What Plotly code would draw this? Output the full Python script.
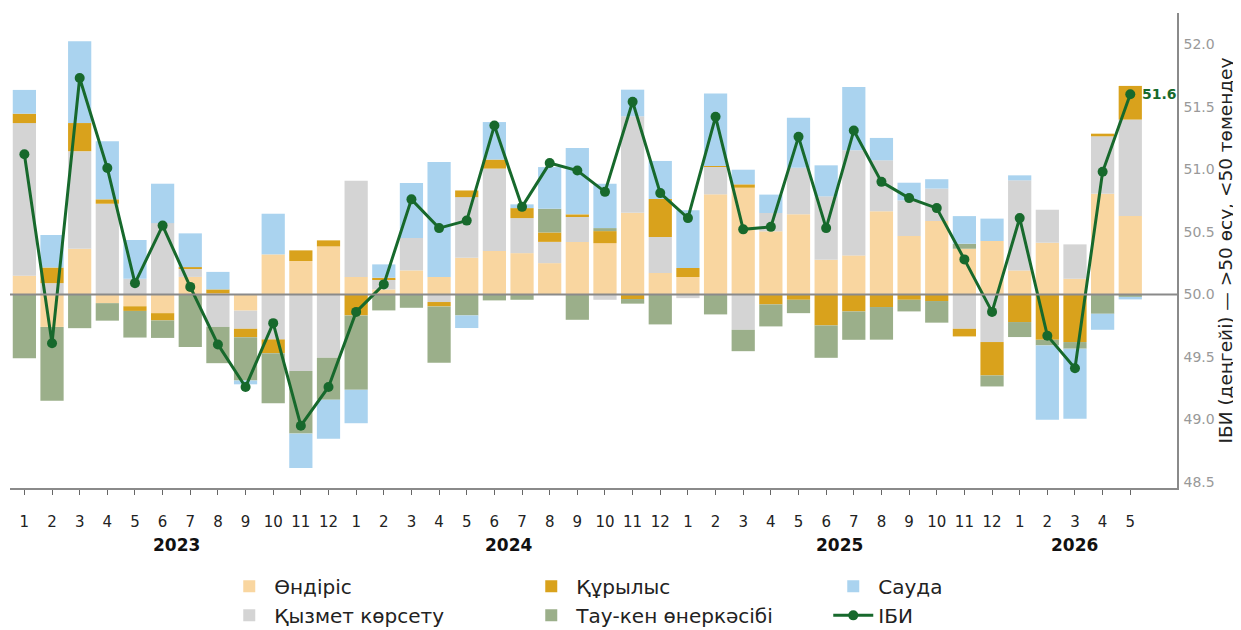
import plotly.graph_objects as go

# ---- data ----
months = [1,2,3,4,5,6,7,8,9,10,11,12,
          1,2,3,4,5,6,7,8,9,10,11,12,
          1,2,3,4,5,6,7,8,9,10,11,12,
          1,2,3,4,5]
years = [2023]*12 + [2024]*12 + [2025]*12 + [2026]*5

# contributions to deviation from 50 (index points)
ondiris = [0.15,-0.26,0.365,-0.07,-0.095,-0.15,0.14,0.01,-0.13,0.32,0.267,0.384,
           0.14,0.04,0.192,0.139,0.293,0.347,0.33,0.25,0.419,0.41,0.653,0.171,
           0.139,0.80,0.853,0.504,0.64,0.277,0.312,0.664,0.467,0.587,0.365,0.427,
           0.192,0.413,0.125,0.805,0.627]
qyzmet = [1.22,0.09,0.78,0.725,0.125,0.57,0.065,-0.26,-0.145,-0.36,-0.613,-0.507,
          0.768,0.08,0.259,-0.061,0.485,0.659,0.28,0.17,0.20,-0.043,0.771,0.288,
          -0.03,0.219,-0.283,0.147,0.373,0.507,0.84,0.408,0.285,0.259,-0.275,-0.381,
          0.72,0.264,0.275,0.459,0.771]
qurylys = [0.075,0.125,0.225,0.035,-0.037,-0.058,0.013,0.03,-0.067,-0.11,0.085,0.048,
           -0.168,0.013,0.0,-0.035,0.053,0.072,0.08,0.075,0.021,0.096,-0.037,0.304,
           0.072,0.008,0.027,-0.08,-0.043,-0.248,-0.136,-0.101,-0.043,-0.053,-0.061,-0.267,
           -0.221,-0.363,-0.381,0.021,0.269]
taukenn = [-0.51,-0.59,-0.27,-0.14,-0.213,-0.14,-0.42,-0.29,-0.347,-0.40,-0.50,-0.336,
           -0.595,-0.128,-0.107,-0.45,-0.168,-0.048,-0.043,0.19,-0.203,0.024,-0.037,-0.24,
           0.0,-0.16,-0.171,-0.176,-0.107,-0.259,-0.227,-0.261,-0.093,-0.173,0.04,-0.088,
           -0.12,-0.045,-0.053,-0.155,-0.02]
sauda = [0.19,0.26,0.655,0.465,0.31,0.315,0.27,0.14,-0.03,0.325,-0.275,-0.312,
         -0.267,0.107,0.44,0.92,-0.101,0.30,0.03,0.333,0.531,0.355,0.213,0.304,
         0.461,0.579,0.117,0.147,0.40,0.248,0.507,0.179,0.141,0.075,0.221,0.179,
         0.04,-0.595,-0.56,-0.128,-0.02]
ibi = [51.12,49.61,51.73,51.01,50.09,50.55,50.06,49.60,49.26,49.77,48.95,49.26,
       49.86,50.08,50.76,50.53,50.59,51.35,50.70,51.05,50.99,50.82,51.54,50.81,
       50.61,51.42,50.52,50.54,51.26,50.53,51.31,50.90,50.77,50.69,50.28,49.86,
       50.61,49.67,49.41,50.98,51.60]

series = [
    ("Өндіріс", ondiris, "#F9D6A0", 1),
    ("Қызмет көрсету", qyzmet, "#D4D4D4", 4),
    ("Құрылыс", qurylys, "#D9A21C", 2),
    ("Тау-кен өнеркәсібі", taukenn, "#9BAF8A", 5),
    ("Сауда", sauda, "#AAD3EF", 3),
]
LINE = "#17692C"
FONT = "DejaVu Sans"

x = list(range(len(months)))
y_lo, y_hi = 48.452, 52.25
mid = 50.0

fig = go.Figure()
for name, vals, col, rank in series:
    fig.add_trace(go.Bar(x=x, y=vals, name=name, marker=dict(color=col, line=dict(width=0)),
                         legendrank=rank, yaxis="y", width=0.84))
fig.add_trace(go.Scatter(x=x, y=ibi, name="ІБИ", mode="lines+markers", yaxis="y2",
                         line=dict(color=LINE, width=3), marker=dict(color=LINE, size=10),
                         legendrank=6))

fig.add_shape(type="line", xref="paper", x0=0, x1=1, yref="y2", y0=mid, y1=mid,
              line=dict(color="#8a8a8a", width=2), layer="above")

fig.add_annotation(x=x[-1], y=ibi[-1], xref="x", yref="y2", text=f"<b>{ibi[-1]:.1f}</b>",
                   showarrow=False, xanchor="left", xshift=10,
                   font=dict(family=FONT, size=14, color=LINE))

for yr in sorted(set(years)):
    idx = [i for i, v in enumerate(years) if v == yr]
    fig.add_annotation(x=(idx[0] + idx[-1]) / 2, y=-0.119, xref="x", yref="paper",
                       text=f"<b>{yr}</b>", showarrow=False, yanchor="middle",
                       font=dict(family=FONT, size=17, color="#111"))

fig.update_layout(
    width=1233, height=622,
    margin=dict(l=2, r=64, t=5, b=142, autoexpand=False),
    barmode="relative", bargap=0.16,
    plot_bgcolor="white", paper_bgcolor="white",
    font=dict(family=FONT, color="#222"),
    xaxis=dict(range=[-0.52, 41.69], tickmode="array", tickvals=x,
               ticktext=[str(m) for m in months], ticks="outside", ticklen=5,
               tickcolor="#666", showline=True, linecolor="#8a8a8a", linewidth=1.5,
               showgrid=False, zeroline=False, tickfont=dict(size=15, color="#222"),
               ticklabelstandoff=14, automargin=False),
    yaxis=dict(range=[y_lo - mid, y_hi - mid], visible=False, showgrid=False, zeroline=False),
    yaxis2=dict(range=[y_lo, y_hi], overlaying="y", side="right", showline=True,
                linecolor="#8a8a8a", linewidth=1.5, showgrid=False, zeroline=False,
                tickvals=[48.5, 49.0, 49.5, 50.0, 50.5, 51.0, 51.5, 52.0], tickformat=".1f",
                tickfont=dict(size=14, color="#999"), ticks="", ticklabelstandoff=2,
                automargin=False,
                title=dict(text="ІБИ (деңгейі) — >50 өсу, <50 төмендеу",
                           font=dict(size=18.5, color="#222"), standoff=5)),
    legend=dict(orientation="h", x=0.1836, y=-0.166, xanchor="left", yanchor="top",
                entrywidth=247, entrywidthmode="pixels", traceorder="normal",
                font=dict(size=20, color="#222"), itemwidth=40),
    showlegend=True,
)

fig.write_html("out.html")
